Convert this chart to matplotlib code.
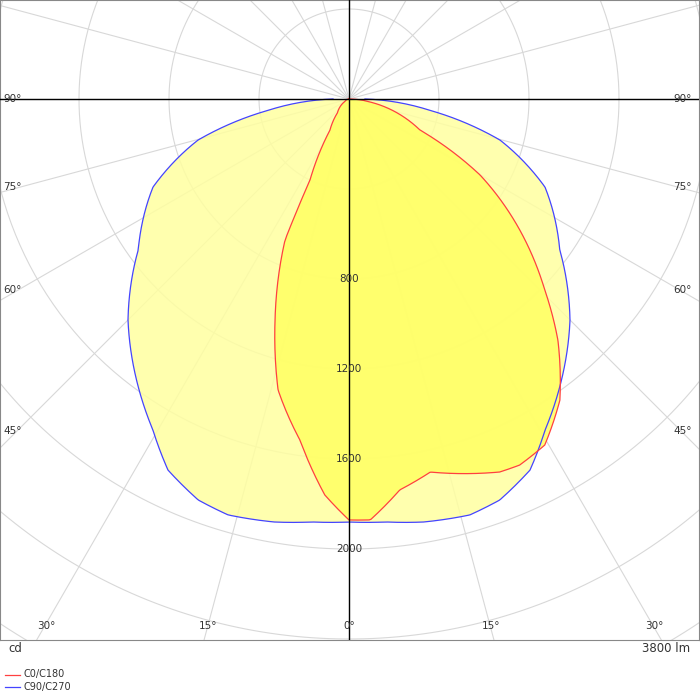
import numpy as np
import matplotlib
matplotlib.use("Agg")
import matplotlib.pyplot as plt

# C90/C270 (symmetric), gamma deg -> cd
blue_g = [0, 5, 10, 16.2, 20.6, 26, 30.6, 45, 54.4, 65.8, 74.8, 82, 90]
blue_i = [1880, 1887, 1909, 1925, 1904, 1835, 1711, 1389, 1152, 955, 695, 364, 71]
# C0/C180: negative = C180 side
red_g = [-90, -60, -40, -31.5, -25.7, -24.4, -18.5, -13.7, -8.2, -3.5, 0, 2.9, 7.4, 12.3,
         22, 25, 29.5, 35, 40.9, 45.7, 52.5, 59.9, 66.4, 81.9, 90]
red_i = [0, 20, 80, 162, 400, 688, 1036, 1331, 1531, 1763, 1871, 1873, 1752, 1697,
         1788, 1795, 1767, 1634, 1418, 1216, 957, 673, 344, 94, 0]
ring_labels = [800, 1200, 1600, 2000]
side_labels = [90, 75, 60, 45]
bottom_labels = [30, 15, 0, 15, 30]

fig = plt.figure(figsize=(7, 7), dpi=100)
ax = fig.add_axes([0, 1 - 640 / 700, 699 / 700, 640 / 700])
S = 0.225
ax.set_xlim(-349 / S, 350 / S)
ax.set_ylim(-541 / S, 99 / S)
ax.set_aspect('equal')
ax.set_xticks([]); ax.set_yticks([])
for s in ax.spines.values():
    s.set_color('#888888')

t = np.linspace(0, 2 * np.pi, 400)
for r in range(400, 4400, 400):
    ax.plot(r * np.cos(t), r * np.sin(t), color='#d8d8d8', lw=0.8, zorder=1)
for a in range(0, 360, 15):
    ar = np.radians(a)
    ax.plot([0, 5000 * np.cos(ar)], [0, 5000 * np.sin(ar)], color='#d8d8d8', lw=0.8, zorder=1)

def polar_path(g, i):
    gg = np.linspace(min(g), max(g), 721)
    ii = np.interp(gg, g, i)
    gr = np.radians(gg)
    return ii * np.sin(gr), -ii * np.cos(gr)

bg = np.concatenate([-np.array(blue_g[::-1]), np.array(blue_g[1:])])
bi = np.concatenate([np.array(blue_i[::-1]), np.array(blue_i[1:])])
bx, by = polar_path(bg, bi)
rx, ry = polar_path(np.array(red_g), np.array(red_i))

ax.fill(bx, by, color='#ffffa0', alpha=0.85, zorder=2, lw=0)
ax.fill(rx, ry, color='#ffff66', alpha=0.9, zorder=3, lw=0)
ax.plot(bx, by, color='#4444ff', lw=0.9, zorder=4)
ax.plot(rx, ry, color='#ff4040', lw=0.9, zorder=5)

ax.axhline(0, color='black', lw=1, zorder=6)
ax.axvline(0, color='black', lw=1, zorder=6)

for r in ring_labels:
    ax.text(0, -r, str(r), ha='center', va='center', fontsize=7.5, color='#333333', zorder=7)

side_y = [99, 187, 290, 431]
for lab, y in zip(side_labels, side_y):
    fig.text(3 / 700, 1 - y / 700, f"{lab}°", ha='left', va='center', fontsize=7.5, color='#333333')
    fig.text(692 / 700, 1 - y / 700, f"{lab}°", ha='right', va='center', fontsize=7.5, color='#333333')
bot_x = [46, 208, 349, 491, 654]
for lab, x in zip(bottom_labels, bot_x):
    fig.text(x / 700, 1 - 626 / 700, f"{lab}°", ha='center', va='center', fontsize=7.5, color='#333333')

fig.text(8 / 700, 1 - 649 / 700, "cd", ha='left', va='center', fontsize=8.5, color='#333333')
fig.text(690 / 700, 1 - 649 / 700, "3800 lm", ha='right', va='center', fontsize=8.5, color='#333333')
fig.add_artist(plt.Line2D([5 / 700, 20 / 700], [1 - 675 / 700] * 2, color='#ff4040', lw=0.9))
fig.add_artist(plt.Line2D([5 / 700, 20 / 700], [1 - 687 / 700] * 2, color='#4444ff', lw=0.9))
fig.text(24 / 700, 1 - 674 / 700, "C0/C180", ha='left', va='center', fontsize=7, color='#333333')
fig.text(24 / 700, 1 - 687 / 700, "C90/C270", ha='left', va='center', fontsize=7, color='#333333')

fig.savefig("out.png", dpi=100)
